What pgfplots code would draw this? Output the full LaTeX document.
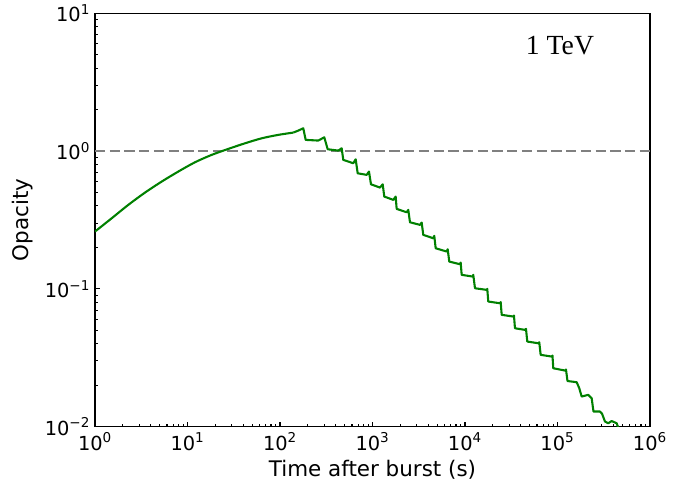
\documentclass[border=0pt]{standalone}
\usepackage{fontspec}
\setmainfont{DejaVu Sans}
\newfontfamily\timesfont{Liberation Serif}
\usepackage{pgfplots}
\pgfplotsset{compat=1.18}
\definecolor{mplgreen}{HTML}{008000}
\definecolor{mplgray}{HTML}{808080}
\begin{document}
\begin{tikzpicture}
\begin{axis}[
  xmode=log, ymode=log,
  scale only axis, width=399.6bp, height=297.6bp,
  xmin=1, xmax=1e6, ymin=1e-2, ymax=10,
  xtick={1,10,100,1000,10000,100000,1000000},
  xticklabels={10\textsuperscript{0},10\textsuperscript{1},10\textsuperscript{2},10\textsuperscript{3},10\textsuperscript{4},10\textsuperscript{5},10\textsuperscript{6}},
  ytick={0.01,0.1,1,10},
  yticklabels={10\textsuperscript{−2},10\textsuperscript{−1},10\textsuperscript{0},10\textsuperscript{1}},
  minor xtick={2,3,4,5,6,7,8,9,20,30,40,50,60,70,80,90,200,300,400,500,600,700,800,900,2000,3000,4000,5000,6000,7000,8000,9000,20000,30000,40000,50000,60000,70000,80000,90000,200000,300000,400000,500000,600000,700000,800000,900000},
  minor ytick={0.02,0.03,0.04,0.05,0.06,0.07,0.08,0.09,0.2,0.3,0.4,0.5,0.6,0.7,0.8,0.9,2,3,4,5,6,7,8,9},
  tick align=inside, tick pos=left,
  major tick length=3.5bp, minor tick length=2bp,
  every tick/.style={black, line width=0.8bp},
  axis line style={line width=0.8bp},
  tick label style={font=\fontsize{14}{16}\selectfont},
  xticklabel style={yshift=-1bp},
  label style={font=\fontsize{15.5}{18}\selectfont},
  xlabel={Time after burst (s)}, ylabel={Opacity},
  ylabel style={yshift=2bp},
]
\addplot[mplgray, line width=1.5bp, dash pattern=on 7.4bp off 3.2bp] coordinates {(1,1) (1e6,1)};
\addplot[mplgreen, line width=1.5bp, smooth, line join=round] coordinates {
(1,0.2606) (1.515,0.3253) (2.291,0.407) (3.472,0.4997) (5.26,0.6006) (7.95,0.7099)
(12.05,0.8294) (18.26,0.9385) (27.6,1.037) (41.84,1.139) (63.4,1.238) (95.9,1.311)
(139.3,1.362)
};
\addplot[mplgreen, line width=1.5bp, line join=round] coordinates {
(139.3,1.362) (157.7,1.409) (178.6,1.464)
(189.6,1.206) (259.5,1.192) (301.2,1.259)
(327.9,1.031) (426.9,1.008) (464.5,1.048)
(483.4,0.863) (620.0,0.816) (658,0.872)
(691.8,0.690) (865.5,0.672) (916.7,0.710)
(963.4,0.574) (1205,0.5434) (1289,0.574)
(1342,0.4675) (1679,0.4424) (1781,0.4675)
(1826,0.3806) (2343,0.3597) (2438,0.3743)
(2543,0.3043) (3262,0.2914) (3403,0.3028)
(3541,0.2465) (4543,0.2329) (4657,0.2424)
(4822,0.1971) (6341,0.1866) (6501,0.1938)
(6766,0.1578) (8828,0.1509) (8985,0.1552)
(9211,0.1264) (12110,0.1228) (12290,0.1264)
(12830,0.1010) (17170,0.09833) (17420,0.1)
(17860,0.0809) (23900,0.07861) (24320,0.0802)
(24940,0.06477) (33280,0.06295) (33860,0.06401)
(34710,0.05176) (44530,0.05039) (45660,0.05124)
(47160,0.04145) (62000,0.04029) (63560,0.04097)
(65800,0.03319) (86550,0.03226) (88280,0.03281)
(90070,0.02653) (120500,0.02553) (123600,0.02597)
(128300,0.02143) (161300,0.02101) (172100,0.0190)
(182600,0.01654) (215300,0.01701) (234300,0.01607)
(245000,0.01287) (288000,0.01287) (302700,0.01245)
(326200,0.01089) (354100,0.01058) (385400,0.01098) (436500,0.01058) (462300,0.00953)
};
\node[font=\timesfont\fontsize{20}{24}\selectfont] at (rel axis cs:0.8378,0.9218) {1 TeV};
\coordinate (ll) at (rel axis cs:0,0);
\end{axis}
\path (ll) ++(-68.4bp,-43.2bp) rectangle ++(499.7bp,349.2bp);
\end{tikzpicture}
\end{document}
